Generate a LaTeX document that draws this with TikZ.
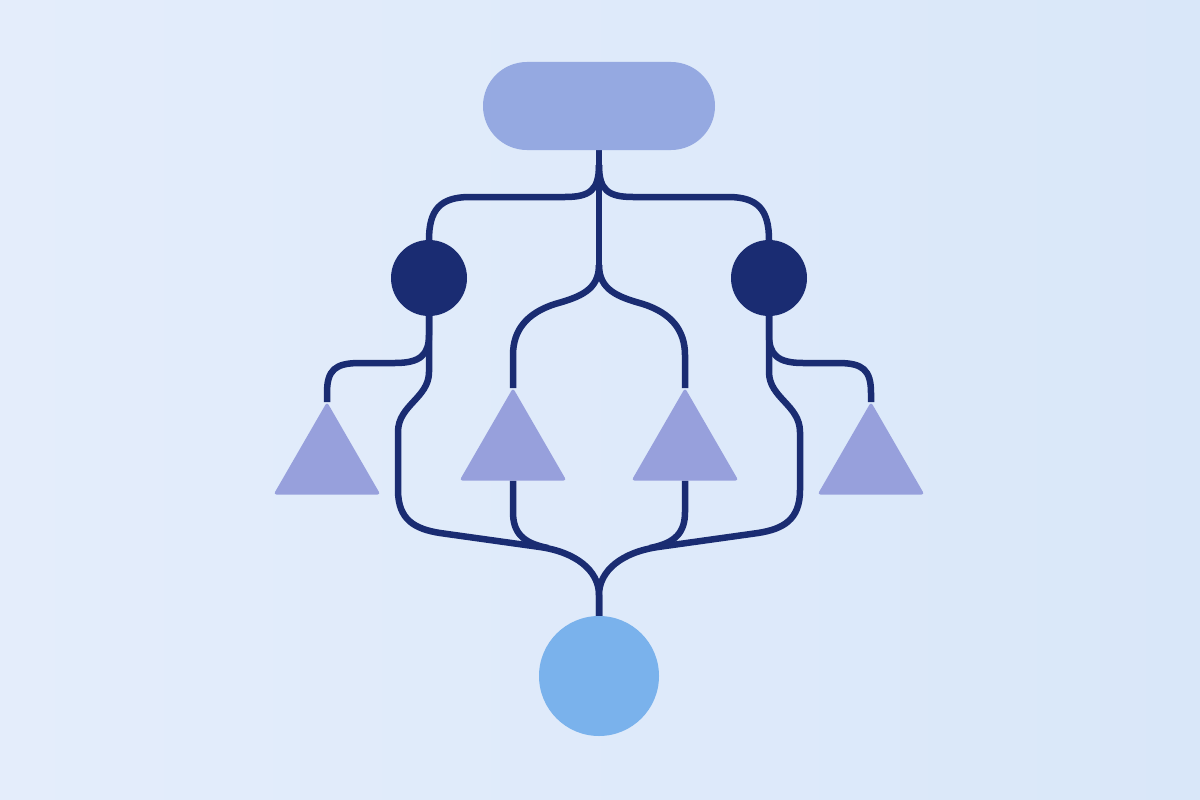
\documentclass[tikz,border=0pt]{standalone}
\usetikzlibrary{shapes.geometric,shapes.misc}
\definecolor{navy}{HTML}{1A2C72}
\definecolor{pillfill}{HTML}{95A9E1}
\definecolor{trifill}{HTML}{97A0DC}
\definecolor{outfill}{HTML}{7AB2EC}
\definecolor{bgl}{HTML}{E4EDFB}
\definecolor{bgr}{HTML}{D9E7F9}
\pgfdeclarelayer{back}
\pgfdeclarelayer{wires}
\pgfsetlayers{back,wires,main}
\begin{document}
\begin{tikzpicture}[x=1pt,y=-1pt,
  wire/.style={draw=navy,line width=6.5pt},
  tri/.style={regular polygon,regular polygon sides=3,minimum size=123.4pt,inner sep=0pt,outer sep=0pt,fill=trifill,rounded corners=3pt},
  hub/.style={circle,fill=navy,minimum size=76pt,inner sep=0pt,outer sep=0pt},
  pill/.style={rounded rectangle,fill=pillfill,minimum width=232pt,minimum height=88pt,inner sep=0pt,outer sep=0pt},
  outc/.style={circle,fill=outfill,minimum size=120pt,inner sep=0pt,outer sep=0pt}]
\useasboundingbox (0,0) rectangle (1200,800);
\begin{pgfonlayer}{back}
\shade[left color=bgl,right color=bgr] (0,0) rectangle (1200,800);
\end{pgfonlayer}
% nodes
\node[pill] (top) at (599,106) {};
\node[hub] (c1) at (429,278) {};
\node[hub] (c2) at (769,278) {};
\node[tri] (t1) at (327,463.7) {};
\node[tri] (t2) at (513,449.7) {};
\node[tri] (t3) at (685,449.7) {};
\node[tri] (t4) at (871,463.7) {};
\node[outc] (out) at (599,676) {};
\coordinate (fork) at (599,165);
\coordinate (split) at (599,265);
\coordinate (jl) at (548,548);
\coordinate (jr) at (650,548);
\begin{pgfonlayer}{wires}
% top stem and branches
\draw[wire] (top.south) -- (split);
\draw[wire] (fork) .. controls (599,190) and (590,197) .. (565,197) -- (470,197) .. controls (440,197) and (429,210) .. (429,240) -- (c1.north);
\draw[wire] (fork) .. controls (599,190) and (608,197) .. (633,197) -- (728,197) .. controls (758,197) and (769,210) .. (769,240) -- (c2.north);
\draw[wire] (split) .. controls (599,290) and (580,297) .. (555,304) .. controls (527,313) and (513,330) .. (513,355) -- (t2.corner 1);
\draw[wire] (split) .. controls (599,290) and (618,297) .. (643,304) .. controls (671,313) and (685,330) .. (685,355) -- (t3.corner 1);
% hubs to outer triangles
\draw[wire] (t1.corner 1) -- (327,393) .. controls (327,370) and (335,363) .. (360,363) -- (395,363) .. controls (420,363) and (429,355) .. (429,335) -- (c1.south);
\draw[wire] (t4.corner 1) -- (871,393) .. controls (871,370) and (863,363) .. (838,363) -- (803,363) .. controls (778,363) and (769,355) .. (769,335) -- (c2.south);
% hubs down to output
\draw[wire] (c1.south) -- (429,372) .. controls (429,398) and (398,405) .. (398,432) -- (398,490) .. controls (398,520) and (415,529) .. (440,533) -- (540,547) .. controls (575,552) and (599,570) .. (599,595) -- (out.north);
\draw[wire] (c2.south) -- (769,372) .. controls (769,398) and (800,405) .. (800,432) -- (800,490) .. controls (800,520) and (783,529) .. (758,533) -- (658,547) .. controls (623,552) and (599,570) .. (599,595) -- (out.north);
% inner triangles down
\draw[wire] (t2.side 2) -- (513,512) .. controls (513,532) and (522,543) .. (jl);
\draw[wire] (t3.side 2) -- (685,512) .. controls (685,532) and (676,543) .. (jr);
\end{pgfonlayer}
\end{tikzpicture}
\end{document}
